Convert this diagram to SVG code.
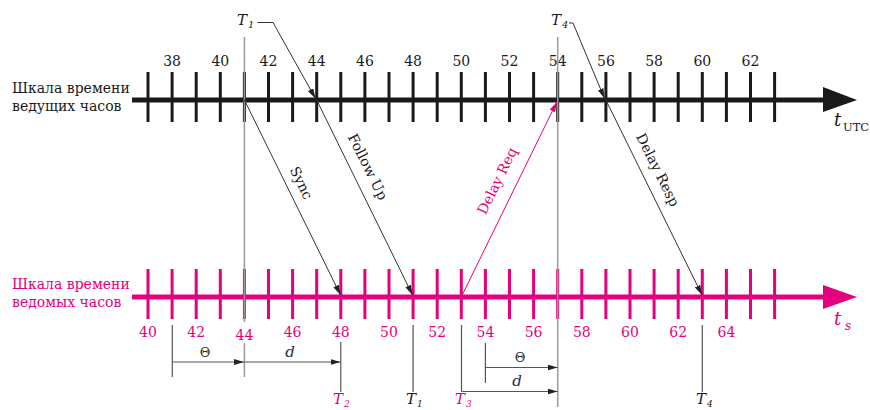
<svg xmlns="http://www.w3.org/2000/svg" width="870" height="410" viewBox="0 0 870 410">
<style>
.num{font-family:"DejaVu Serif","Liberation Serif",serif;font-size:14px;text-anchor:middle}
.top{fill:#1a1a1a}
.pink{fill:#E5007D}
.lab{font-family:"DejaVu Serif","Liberation Serif",serif;font-size:14px}
.msg{font-family:"DejaVu Serif","Liberation Serif",serif;font-size:14px;text-anchor:middle}
.it{font-family:"DejaVu Serif","Liberation Serif",serif;font-style:italic}
.grid{stroke:#9a9a9a;stroke-width:1.5;fill:none}
.m{stroke:#333;stroke-width:1;fill:none}
.meas{stroke:#555;stroke-width:1.2;fill:none}
</style>
<defs>
<marker id="ah" viewBox="0 0 10 6" refX="10" refY="3" markerWidth="10" markerHeight="6" markerUnits="userSpaceOnUse" orient="auto"><path d="M0,0L10,3L0,6z" fill="#222"/></marker>
<marker id="ahp" viewBox="0 0 10 6" refX="10" refY="3" markerWidth="10" markerHeight="6" markerUnits="userSpaceOnUse" orient="auto"><path d="M0,0L10,3L0,6z" fill="#E5007D"/></marker>
</defs>
<rect width="870" height="410" fill="#fff"/>

<g id="master-axis">
<text class="lab top" x="12" y="93">Шкала времени</text>
<text class="lab top" x="12" y="111">ведущих часов</text>
<path d="M132 100H826" stroke="#1a1a1a" stroke-width="5"/>
<path d="M823 87L857 100L823 112z" fill="#1a1a1a"/>
<path stroke="#1a1a1a" stroke-width="3" d="M148 72V122M172.1 72V122M196.2 72V122M220.3 72V122M244.4 72V122M268.5 72V122M292.6 72V122M316.7 72V122M340.8 72V122M364.9 72V122M389 72V122M413.1 72V122M437.2 72V122M461.3 72V122M485.4 72V122M509.5 72V122M533.6 72V122M557.7 72V122M581.8 72V122M605.9 72V122M630 72V122M654.1 72V122M678.2 72V122M702.3 72V122M726.4 72V122M750.5 72V122M774.6 72V122"/>
<g class="num top">
<text x="172.1" y="66">38</text><text x="220.3" y="66">40</text><text x="268.5" y="66">42</text><text x="316.7" y="66">44</text><text x="364.9" y="66">46</text><text x="413.1" y="66">48</text><text x="461.3" y="66">50</text><text x="509.5" y="66">52</text><text x="557.7" y="66">54</text><text x="605.9" y="66">56</text><text x="654.1" y="66">58</text><text x="702.3" y="66">60</text><text x="750.5" y="66">62</text>
</g>
<text class="it top" x="834" y="126" font-size="18">t</text>
<text class="top" x="843" y="131" font-family="DejaVu Serif,serif" font-size="11.5">UTC</text>
</g>

<g id="slave-axis">
<text class="lab pink" x="12" y="289">Шкала времени</text>
<text class="lab pink" x="12" y="307">ведомых часов</text>
<path d="M132 297H826" stroke="#E5007D" stroke-width="5"/>
<path d="M823 285L857 297L823 309z" fill="#E5007D"/>
<path stroke="#E5007D" stroke-width="3" d="M148 269V319M172.1 269V319M196.2 269V319M220.3 269V319M244.4 269V319M268.5 269V319M292.6 269V319M316.7 269V319M340.8 269V319M364.9 269V319M389 269V319M413.1 269V319M437.2 269V319M461.3 269V319M485.4 269V319M509.5 269V319M533.6 269V319M557.7 269V319M581.8 269V319M605.9 269V319M630 269V319M654.1 269V319M678.2 269V319M702.3 269V319M726.4 269V319M750.5 269V319M774.6 269V319"/>
<g class="num pink">
<text x="148" y="337">40</text><text x="196.2" y="337">42</text><text x="244.4" y="340">44</text><text x="292.6" y="337">46</text><text x="340.8" y="337">48</text><text x="389" y="337">50</text><text x="437.2" y="337">52</text><text x="485.4" y="337">54</text><text x="533.6" y="337">56</text><text x="581.8" y="337">58</text><text x="630" y="337">60</text><text x="678.2" y="337">62</text><text x="726.4" y="337">64</text>
</g>
<text class="it pink" x="834" y="325" font-size="18">t</text>
<text class="it pink" x="845" y="330" font-size="12">s</text>
</g>

<g id="reference-lines">
<path class="grid" d="M244.4 37V322M244.4 343V377"/>
<path class="grid" d="M557.7 37V407"/>
</g>

<g id="timestamps">
<text class="it" x="237" y="25" font-size="15" fill="#1a1a2a">T</text><text class="it" x="248" y="28" font-size="10" fill="#1a1a2a">1</text>
<text class="it" x="551" y="25" font-size="15" fill="#1a1a2a">T</text><text class="it" x="562" y="28" font-size="10" fill="#1a1a2a">4</text>
<text class="it pink" x="333" y="404" font-size="15">T</text><text class="it pink" x="344" y="407" font-size="9">2</text>
<text class="it top" x="406" y="404" font-size="15">T</text><text class="it top" x="417" y="407" font-size="9">1</text>
<text class="it pink" x="455" y="404" font-size="15">T</text><text class="it pink" x="466" y="407" font-size="9">3</text>
<text class="it top" x="696" y="404" font-size="15">T</text><text class="it top" x="707" y="407" font-size="9">4</text>
</g>

<g id="connectors">
<polyline class="m" points="257.5,22.5 273,22.5 315.5,98.5" marker-end="url(#ah)"/>
<polyline class="m" points="569,23 573,23 604.5,98.5" marker-end="url(#ah)"/>
<line class="m" x1="244.4" y1="100" x2="340.5" y2="295" marker-end="url(#ah)"/>
<line class="m" x1="316.7" y1="100" x2="412.5" y2="295" marker-end="url(#ah)"/>
<line x1="461.3" y1="297" x2="556.8" y2="102" stroke="#E5007D" stroke-width="1" marker-end="url(#ahp)"/>
<line class="m" x1="605.9" y1="100" x2="702" y2="295" marker-end="url(#ah)"/>
<text class="msg top" transform="translate(297,185) rotate(64)">Sync</text>
<text class="msg top" transform="translate(363.5,169) rotate(63.5)">Follow Up</text>
<text class="msg pink" transform="translate(501.5,183) rotate(-64)">Delay Req</text>
<text class="msg top" transform="translate(653.5,172) rotate(63.5)">Delay Resp</text>
</g>

<g id="measurements">
<path class="meas" d="M172.3 325V377"/>
<path class="meas" d="M340.8 342V392"/>
<path class="meas" d="M413.1 325V392"/>
<path class="meas" d="M461.5 325V391.5"/>
<path class="meas" d="M485.4 343V383"/>
<path class="meas" d="M702.3 325V392"/>
<line class="meas" x1="172.3" y1="362" x2="244" y2="362" marker-end="url(#ah)"/>
<line class="meas" x1="244.4" y1="362" x2="340.5" y2="362" marker-end="url(#ah)"/>
<line class="meas" x1="485.4" y1="367.5" x2="557.5" y2="367.5" marker-end="url(#ah)"/>
<line class="meas" x1="461.5" y1="391.5" x2="557.5" y2="391.5" marker-end="url(#ah)"/>
<text x="205" y="357" font-family="DejaVu Serif,serif" font-size="13" text-anchor="middle" fill="#333">Θ</text>
<text class="it" x="290" y="357" font-size="15" text-anchor="middle" fill="#2a2a4a">d</text>
<text x="520" y="362" font-family="DejaVu Serif,serif" font-size="13" text-anchor="middle" fill="#333">Θ</text>
<text class="it" x="517" y="386" font-size="15" text-anchor="middle" fill="#2a2a4a">d</text>
</g>
</svg>
